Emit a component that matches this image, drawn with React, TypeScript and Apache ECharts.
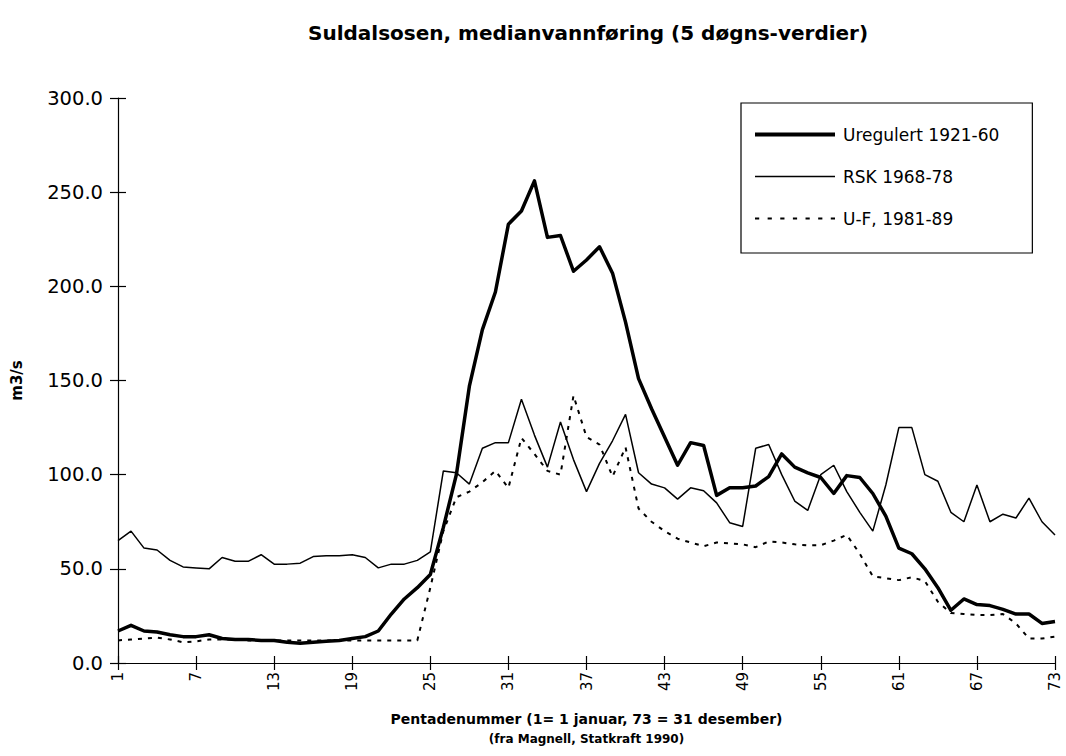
import React, { useEffect, useRef } from "react";
import * as echarts from "echarts";

const pentads: string[] = Array.from({ length: 73 }, (_, i) => String(i + 1));

const uregulert: number[] = [
  17, 20, 17, 16.5, 15, 14, 14, 15, 13, 12.5, 12.5, 12, 12, 11, 10.5, 11, 11.5, 12, 13, 14,
  17, 26, 34, 40, 47, 72, 100, 147, 177, 197, 233, 240, 256, 226, 227, 208, 214, 221, 207, 181,
  151, 135, 120, 105, 117, 115.5, 89, 93, 93, 94, 99, 111, 104, 101, 98.5, 90, 99.5, 98.5, 90, 78,
  61, 58, 50, 40, 28, 34, 31, 30.5, 28.5, 26, 26, 21, 22,
];

const rsk: number[] = [
  65, 70, 61, 60, 54.5, 51, 50.5, 50, 56, 54, 54, 57.5, 52.5, 52.5, 53, 56.5, 57, 57, 57.5, 56,
  50.5, 52.5, 52.5, 54.5, 59, 102, 101, 95, 114, 117, 117, 140, 121, 104, 128, 108, 91, 106, 118, 132,
  101, 95, 93, 87, 93, 91.5, 85, 74.5, 72.5, 114, 116, 100, 86, 81, 100, 105, 91, 80, 70, 94.5,
  125, 125, 100, 96.5, 80, 75, 94.5, 75, 79, 77, 87.5, 75, 68,
];

const uf: number[] = [
  12, 12.5, 13, 13.5, 12.5, 11, 11.5, 12.5, 12.5, 12.5, 12, 12, 12, 12, 12, 12, 12, 12, 12, 12,
  12, 12, 12, 12, 40, 70, 88, 91, 96, 102, 93, 119.5, 111, 102, 100, 142, 120, 116, 99, 114.5,
  82, 75, 70, 66, 64, 62, 64, 63.5, 63, 61.5, 64.5, 64, 63, 62.5, 62.5, 65, 68, 58, 46, 45,
  44, 45.5, 43.5, 32.5, 26.5, 26, 25.5, 25.5, 26, 21, 13, 13, 14,
];

const seriesNames: string[] = ["Uregulert 1921-60", "RSK 1968-78", "U-F, 1981-89"];

const FONT = "'DejaVu Sans', 'Open Sans', sans-serif";

const dashIcon =
  "path://" +
  [0, 12, 24, 36, 48, 60, 72].map((x) => `M${x},0H${x + 4}V2H${x}Z`).join("");

export default function App() {
  const ref = useRef<HTMLDivElement>(null);

  useEffect(() => {
    document.body.style.margin = "0";
    document.body.style.overflow = "hidden";
    if (!ref.current) return;
    const chart = echarts.init(ref.current, null, { renderer: "svg" });
    const axisColor = "#000";
    const tickCommon = { interval: 5, length: 7, lineStyle: { color: axisColor, width: 1.2 } };

    chart.setOption({
      animation: false,
      backgroundColor: "#fff",
      title: {
        text: "Suldalsosen, medianvannføring (5 døgns-verdier)",
        left: 303,
        top: 18,
        textStyle: { fontFamily: FONT, fontWeight: "bold", fontSize: 20, color: "#000" },
      },
      grid: { left: 118, right: 11, top: 98, bottom: 93 },
      legend: {
        orient: "vertical",
        left: 741,
        top: 103,
        itemWidth: 80,
        itemHeight: 20,
        itemGap: 25,
        padding: [23, 33, 26, 14],
        borderColor: "#000",
        borderWidth: 1.2,
        textStyle: { fontFamily: FONT, fontSize: 17, color: "#000", padding: [0, 0, 0, 3] },
        data: [
          { name: seriesNames[0], icon: "path://M0,0H80V4H0Z", itemStyle: { color: "#000", borderWidth: 0 } },
          { name: seriesNames[1], icon: "path://M0,0H80V1.5H0Z", itemStyle: { color: "#000", borderWidth: 0 } },
          { name: seriesNames[2], icon: dashIcon, itemStyle: { color: "#000", borderWidth: 0 } },
        ],
      },
      xAxis: [
        {
          type: "category",
          data: pentads,
          boundaryGap: false,
          axisLine: { lineStyle: { color: axisColor, width: 1.2 } },
          axisTick: tickCommon,
          axisLabel: {
            interval: 5,
            rotate: 90,
            fontFamily: FONT,
            fontSize: 15,
            color: "#000",
            margin: 9,
          },
          name: "{a|Pentadenummer (1= 1 januar, 73 = 31 desember)}\n{b|(fra Magnell, Statkraft 1990)}",
          nameLocation: "middle",
          nameGap: 46,
          nameTextStyle: {
            fontFamily: FONT,
            fontWeight: "bold",
            color: "#000",
            rich: {
              a: { fontFamily: FONT, fontWeight: "bold", fontSize: 14, lineHeight: 20, color: "#000" },
              b: { fontFamily: FONT, fontWeight: "bold", fontSize: 12, lineHeight: 20, color: "#000" },
            },
          },
        },
        {
          type: "category",
          data: pentads,
          boundaryGap: false,
          position: "bottom",
          axisLine: { show: false },
          axisTick: { ...tickCommon, inside: true },
          axisLabel: { show: false },
        },
      ],
      yAxis: [
        {
          type: "value",
          min: 0,
          max: 300,
          interval: 50,
          splitLine: { show: false },
          axisLine: { show: true, lineStyle: { color: axisColor, width: 1.2 } },
          axisTick: { show: true, length: 8, lineStyle: { color: axisColor, width: 1.2 } },
          axisLabel: {
            fontFamily: FONT,
            fontSize: 19.5,
            color: "#000",
            margin: 15,
            formatter: (v: number) => v.toFixed(1),
          },
          name: "m3/s",
          nameLocation: "middle",
          nameRotate: 90,
          nameGap: 94,
          nameTextStyle: { fontFamily: FONT, fontWeight: "bold", fontSize: 15, color: "#000" },
        },
        {
          type: "value",
          min: 0,
          max: 300,
          interval: 50,
          position: "left",
          splitLine: { show: false },
          axisLine: { show: false },
          axisTick: { show: true, inside: true, length: 8, lineStyle: { color: axisColor, width: 1.2 } },
          axisLabel: { show: false },
        },
      ],
      series: [
        {
          name: seriesNames[0],
          type: "line",
          data: uregulert,
          symbol: "none",
          xAxisIndex: 0,
          yAxisIndex: 0,
          lineStyle: { color: "#000", width: 3.5, join: "round" },
          itemStyle: { color: "#000" },
          z: 3,
        },
        {
          name: seriesNames[1],
          type: "line",
          data: rsk,
          symbol: "none",
          xAxisIndex: 0,
          yAxisIndex: 0,
          lineStyle: { color: "#000", width: 1.5 },
          itemStyle: { color: "#000" },
          z: 2,
        },
        {
          name: seriesNames[2],
          type: "line",
          data: uf,
          symbol: "none",
          xAxisIndex: 0,
          yAxisIndex: 0,
          lineStyle: { color: "#000", width: 2, type: [4, 6] },
          itemStyle: { color: "#000" },
          z: 2,
        },
      ],
    });

    return () => chart.dispose();
  }, []);

  return <div ref={ref} style={{ width: 1066, height: 756 }} />;
}
